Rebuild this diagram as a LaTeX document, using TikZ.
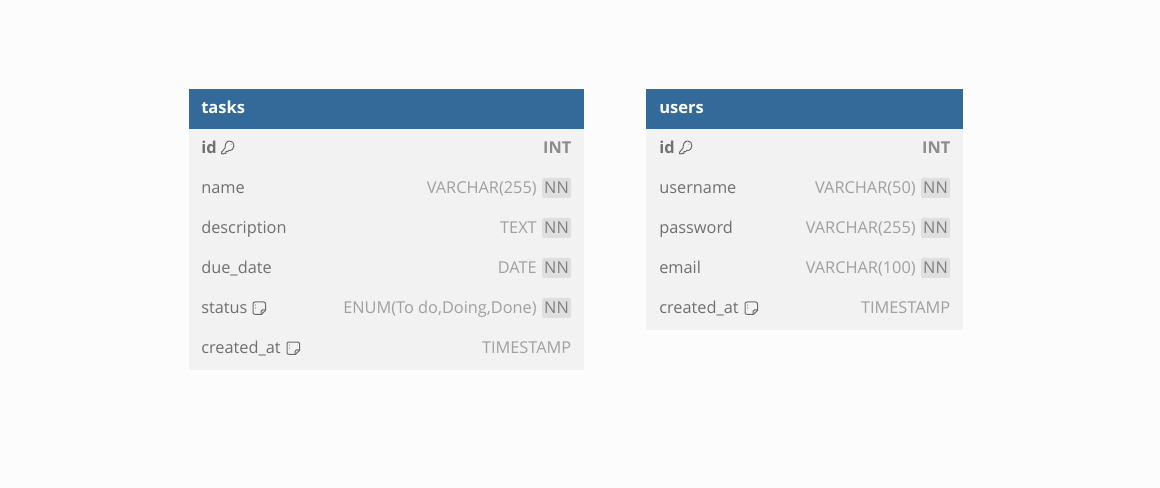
\documentclass[tikz,border=0pt]{standalone}
\usepackage{fontspec}
\setmainfont{Open Sans}
\definecolor{bgc}{HTML}{FCFCFC}
\definecolor{tablec}{HTML}{F2F2F2}
\definecolor{headc}{HTML}{336A99}
\definecolor{namec}{HTML}{707070}
\definecolor{typec}{HTML}{A0A0A0}
\definecolor{nnbg}{HTML}{DFDFDF}
\definecolor{nnc}{HTML}{7F7F7F}
\definecolor{iconc}{HTML}{6A6A6A}
\tikzset{
  x=0.75pt,y=-0.75pt,
  tablebody/.style={fill=tablec,draw=none,anchor=north west,inner sep=0pt,outer sep=0pt},
  headbar/.style={fill=headc,draw=none,anchor=north west,inner sep=0pt,outer sep=0pt},
  headtext/.style={anchor=base west,inner sep=0pt,text=white,font=\bfseries\fontsize{12.4}{14}\selectfont},
  fieldname/.style={anchor=base west,inner sep=0pt,text=namec,font=\fontsize{12.25}{14}\selectfont},
  fieldkey/.style={fieldname,font=\bfseries\fontsize{12.25}{14}\selectfont},
  fieldtype/.style={anchor=base east,inner sep=0pt,text=typec,font=\fontsize{12.25}{14}\selectfont},
  keytype/.style={fieldtype,text=nnc!90,font=\bfseries\fontsize{12.25}{14}\selectfont},
  nnbadge/.style={anchor=center,inner sep=0pt,text=nnc,fill=nnbg,rounded corners=1.5pt,minimum height=15pt,text width=21.75pt,align=center,font=\fontsize{12.25}{14}\selectfont},
  iconline/.style={draw=iconc,line width=0.75pt,line join=round,line cap=round},
}
\newcommand{\keyicon}[2]{%
  \begin{scope}[shift={(#1,#2)},xscale=0.9]
    \draw[iconline] (4.6,-5.2) .. controls (4.2,-9) and (6.4,-12) .. (9.6,-12) .. controls (12.6,-12) and (14.4,-10) .. (14.4,-7.2) .. controls (14.4,-4.2) and (12,-2.2) .. (8.6,-2.6) -- (7.4,-1.4) -- (5.4,-1.4) -- (5.4,0.4) -- (3.2,0.4) -- (2.6,1) -- (0.8,1) -- (0.8,-1) -- cycle;
    \draw[iconline] (11,-8.8) -- (11.1,-8.7);
  \end{scope}}
\newcommand{\noteicon}[2]{%
  \begin{scope}[shift={(#1,#2)}]
    \draw[iconline] (8.5,6.3) -- (2,6.3) .. controls (0.6,6.3) and (0,5.7) .. (0,4.3) -- (0,-4) .. controls (0,-5.4) and (0.6,-6) .. (2,-6) -- (10.5,-6) .. controls (11.9,-6) and (12.5,-5.4) .. (12.5,-4) -- (12.5,2.3) -- cycle;
    \draw[iconline] (12.5,1.8) -- (9.5,1.8) .. controls (8.5,1.8) and (8,2.3) .. (8,3.3) -- (8,6.3);
    \draw[iconline] (2.6,-3) -- (2.6,-2.9) (2.6,0) -- (2.6,0.1);
  \end{scope}}
\begin{document}
\begin{tikzpicture}
\useasboundingbox (0,0) rectangle (1160,488);
\fill[bgc] (0,0) rectangle (1160,488);
% tasks
\node[tablebody,minimum width=296.25pt,minimum height=180pt] (tasksbody) at (189,129.5) {};
\node[headbar,minimum width=296.25pt,minimum height=30pt] (taskshead) at (189,89.5) {};
\node[headtext] (taskstitle) at (201,113.5) {tasks};
\node[fieldkey] (t1) at (201,153.5) {id};
\keyicon{221}{153}
\node[keytype] (t1t) at (571.5,153.5) {INT};
\node[fieldname] (t2) at (201,193.5) {name};
\node[nnbadge] (t2n) at (556.5,188) {NN};
\node[fieldtype] (t2t) at (537,193.5) {VARCHAR(255)};
\node[fieldname] (t3) at (201,233.5) {description};
\node[nnbadge] (t3n) at (556.5,228) {NN};
\node[fieldtype] (t3t) at (537,233.5) {TEXT};
\node[fieldname] (t4) at (201,273.5) {due\_date};
\node[nnbadge] (t4n) at (556.5,268) {NN};
\node[fieldtype] (t4t) at (537,273.5) {DATE};
\node[fieldname] (t5) at (201,313.5) {status};
\noteicon{253}{308}
\node[nnbadge] (t5n) at (556.5,308) {NN};
\node[fieldtype] (t5t) at (537,313.5) {ENUM(To do,Doing,Done)};
\node[fieldname] (t6) at (201,353.5) {created\_at};
\noteicon{287}{348}
\node[fieldtype] (t6t) at (571.5,353.5) {TIMESTAMP};
% users
\node[tablebody,minimum width=237.75pt,minimum height=150pt] (usersbody) at (646,129.5) {};
\node[headbar,minimum width=237.75pt,minimum height=30pt] (usershead) at (646,89.5) {};
\node[headtext] (userstitle) at (659,113.5) {users};
\node[fieldkey] (u1) at (659,153.5) {id};
\keyicon{679}{153}
\node[keytype] (u1t) at (950.5,153.5) {INT};
\node[fieldname] (u2) at (659,193.5) {username};
\node[nnbadge] (u2n) at (935.5,188) {NN};
\node[fieldtype] (u2t) at (916,193.5) {VARCHAR(50)};
\node[fieldname] (u3) at (659,233.5) {password};
\node[nnbadge] (u3n) at (935.5,228) {NN};
\node[fieldtype] (u3t) at (916,233.5) {VARCHAR(255)};
\node[fieldname] (u4) at (659,273.5) {email};
\node[nnbadge] (u4n) at (935.5,268) {NN};
\node[fieldtype] (u4t) at (916,273.5) {VARCHAR(100)};
\node[fieldname] (u5) at (659,313.5) {created\_at};
\noteicon{745}{308}
\node[fieldtype] (u5t) at (950.5,313.5) {TIMESTAMP};
\end{tikzpicture}
\end{document}
